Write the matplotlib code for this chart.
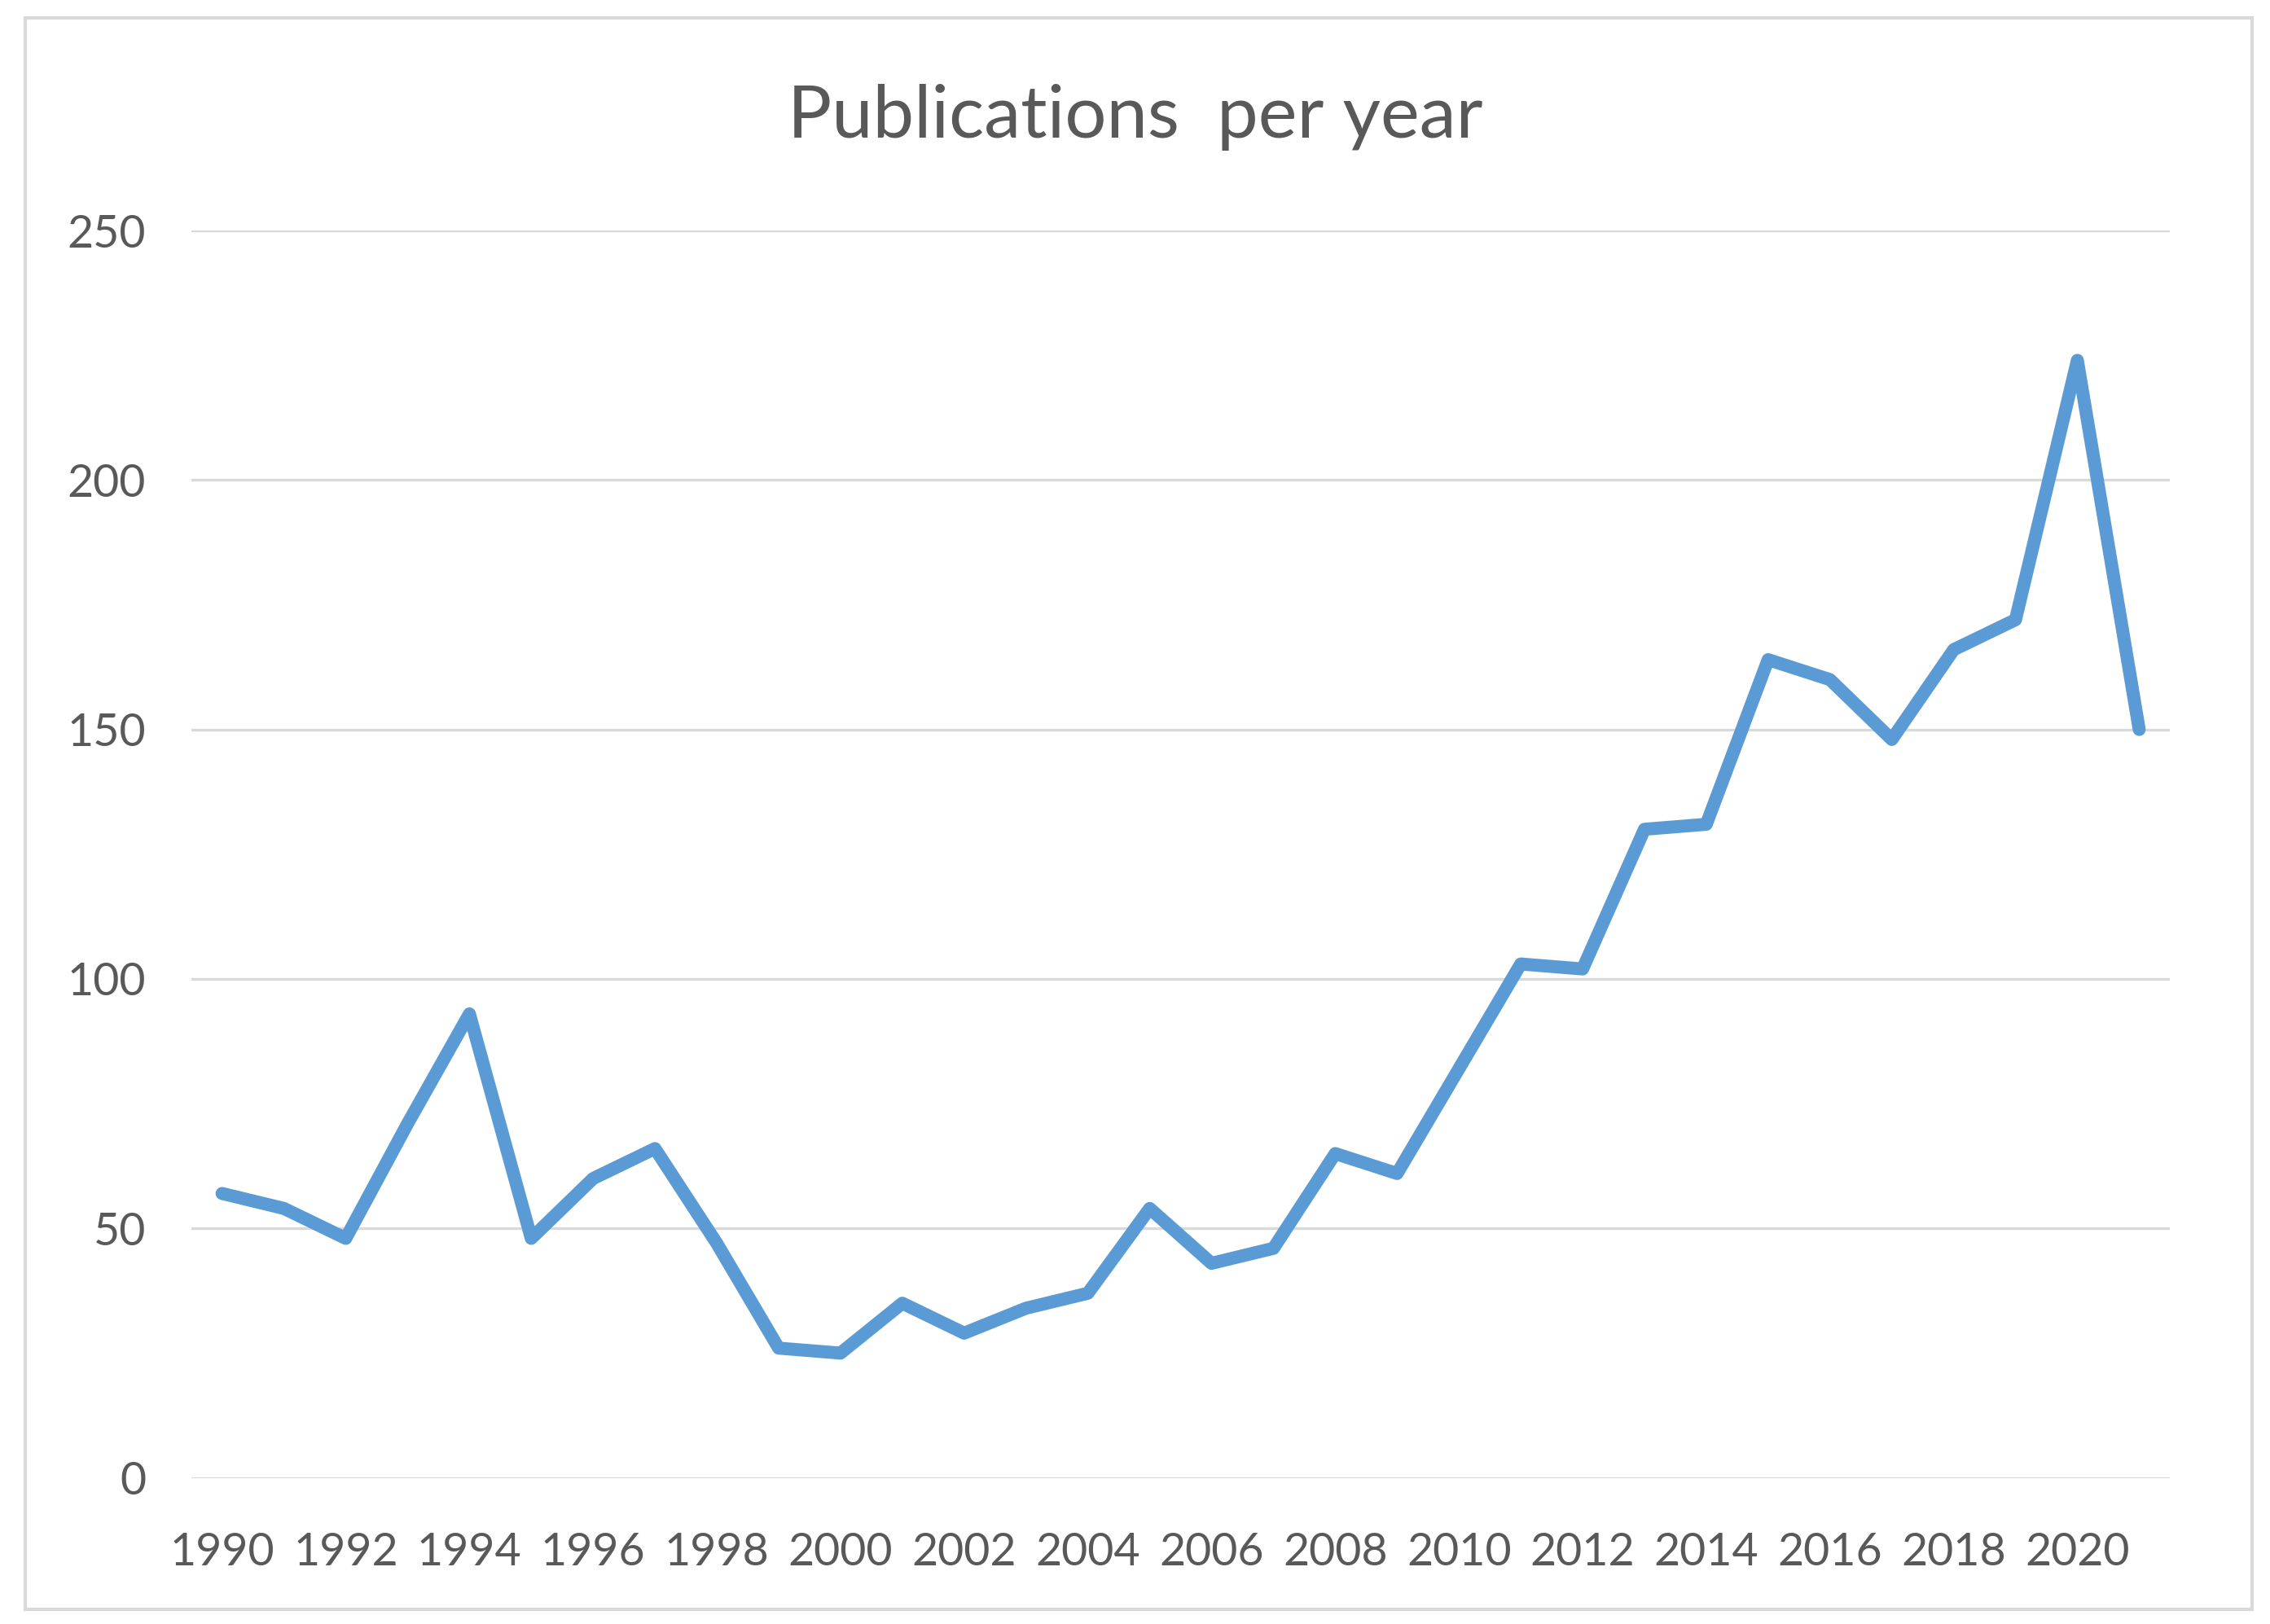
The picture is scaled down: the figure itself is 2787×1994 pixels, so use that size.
import matplotlib.pyplot as plt
from matplotlib.patches import Rectangle

plt.rcParams['font.family'] = ['Lato', 'DejaVu Sans']

# data
years = list(range(1990, 2022))
publications = [57, 54, 48, 71, 93, 48, 60, 66, 47, 26,
                25, 35, 29, 34, 37, 54, 43, 46, 65, 61,
                82, 103, 102, 130, 131, 164, 160, 148, 166, 172,
                224, 150]
year_ticks = list(range(1990, 2021, 2))
y_ticks = [0, 50, 100, 150, 200, 250]

text_col = '#595959'
grid_col = '#D9D9D9'
line_col = '#5B9BD5'

fig = plt.figure(figsize=(27.87, 19.94), dpi=100)
fig.patch.set_facecolor('white')

# light grey chart frame
fig.add_artist(Rectangle((0.011, 0.009), 0.981, 0.980, transform=fig.transFigure,
                         fill=False, edgecolor=grid_col, linewidth=3))

ax = fig.add_axes([0.0842, 0.090, 0.8718, 0.768])
ax.plot(years, publications, color=line_col, linewidth=11.5,
        solid_capstyle='round', solid_joinstyle='round', zorder=3)

ax.set_xlim(1989.5, 2021.5)
ax.set_ylim(0, 250)
ax.set_xticks(year_ticks)
ax.set_xticklabels([str(y) for y in year_ticks])
ax.set_yticks(y_ticks)
ax.yaxis.grid(True, color=grid_col, linewidth=2.4)
ax.set_axisbelow(True)
for s in ax.spines.values():
    s.set_visible(False)
ax.tick_params(axis='both', length=0, labelsize=40, colors=text_col)
ax.tick_params(axis='y', pad=40)
ax.tick_params(axis='x', pad=48)

fig.text(0.5, 0.928, 'Publications  per year', ha='center', va='center',
         fontsize=65, color=text_col)

fig.savefig('out.png', dpi=100)
